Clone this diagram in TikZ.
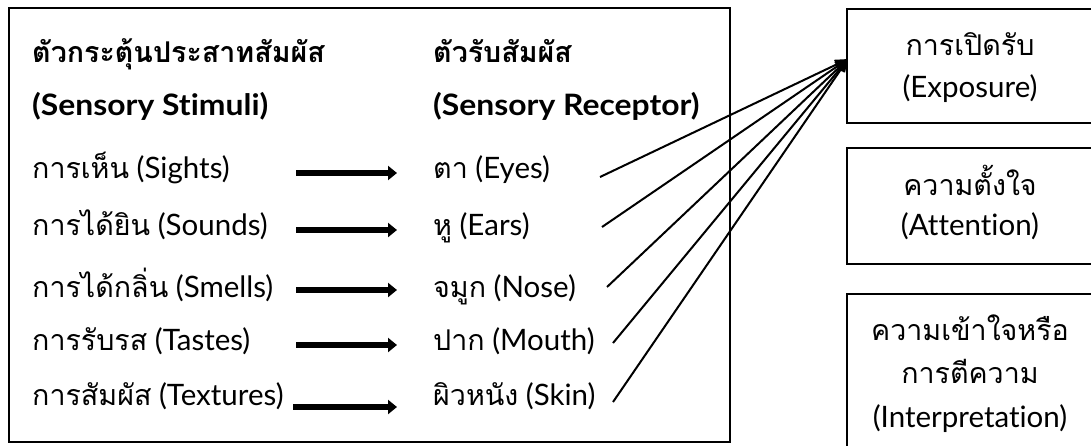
\documentclass[tikz,border=0pt]{standalone}
\usepackage{fontspec}
\setmainfont{Lato}[Ligatures=NoCommon,BoldFeatures={FakeStretch=1.08}]
\newfontfamily\thai[Script=Thai,Scale=0.97]{Loma}
\usetikzlibrary{arrows.meta}
\begin{document}
\begin{tikzpicture}[x=1pt,y=1pt,
  txt/.style={anchor=base west,inner sep=0pt,font=\fontsize{29.5}{34}\selectfont},
  hd/.style={txt,font=\fontsize{29.5}{34}\selectfont\bfseries},
  ctxt/.style={anchor=base,inner sep=0pt,font=\fontsize{29.5}{34}\selectfont},
  frame/.style={draw=black,line width=2pt},
  boxnode/.style={draw=black,line width=2pt,minimum width=248pt,inner sep=0pt},
  fat/.style={line width=5.5pt,-{Triangle[length=9pt,width=14pt]}},
  thin/.style={line width=2pt,-{Triangle[length=13pt,width=10pt]}}]
\useasboundingbox (0,0) rectangle (1091,-445);
% main frame
\draw[frame] (9,-8) rectangle (730,-442);
% headings
\node[hd] (h1) at (32,-62) {\thai ตัวกระตุ้นประสาทสัมผัส};
\node[hd] (h2) at (32,-115) {(Sensory Stimuli)};
\node[hd] (h3) at (433,-62) {\thai ตัวรับสัมผัส};
\node[hd] (h4) at (433,-115) {(Sensory Receptor)};
% stimuli
\node[txt] (s1) at (32,-178) {{\thai การเห็น} (Sights)};
\node[txt] (s2) at (32,-235) {{\thai การได้ยิน} (Sounds)};
\node[txt] (s3) at (32,-297) {{\thai การได้กลิ่น} (Smells)};
\node[txt] (s4) at (32,-350) {{\thai การรับรส} (Tastes)};
\node[txt] (s5) at (32,-405) {{\thai การสัมผัส} (Textures)};
% receptors
\node[txt] (r1) at (433,-178) {{\thai ตา} (Eyes)};
\node[txt] (r2) at (433,-235) {{\thai หู} (Ears)};
\node[txt] (r3) at (433,-297) {{\thai จมูก} (Nose)};
\node[txt] (r4) at (433,-350) {{\thai ปาก} (Mouth)};
\node[txt] (r5) at (433,-405) {{\thai ผิวหนัง} (Skin)};
% fat arrows
\coordinate (a1) at (296,-173); \coordinate (b1) at (397,-173);
\coordinate (a2) at (296,-230); \coordinate (b2) at (397,-230);
\coordinate (a3) at (296,-290); \coordinate (b3) at (397,-290);
\coordinate (a4) at (296,-345); \coordinate (b4) at (397,-345);
\coordinate (a5) at (293,-407); \coordinate (b5) at (397,-407);
\foreach \i in {1,...,5} {\draw[fat] (a\i) -- (b\i);}
% right boxes
\node[boxnode,minimum height=114pt] (exp) at (971,-66) {};
\node[boxnode,minimum height=116pt] (att) at (971,-206) {};
\node[boxnode,minimum height=156pt] (int) at (971,-372) {};
\node[ctxt] (e1) at (970,-55) {\thai การเปิดรับ};
\node[ctxt] (e2) at (970,-97) {(Exposure)};
\node[ctxt] (t1) at (970,-195) {\thai ความตั้งใจ};
\node[ctxt] (t2) at (970,-235) {(Attention)};
\node[ctxt] (i1) at (970,-340) {\thai ความเข้าใจหรือ};
\node[ctxt] (i2) at (970,-383) {\thai การตีความ};
\node[ctxt] (i3) at (970,-427) {(Interpretation)};
% converging lines
\coordinate (conv) at (848,-59);
\coordinate (c1) at (600,-177);
\coordinate (c2) at (602,-227);
\coordinate (c3) at (607,-287);
\coordinate (c4) at (613,-343);
\coordinate (c5) at (613,-402);
\foreach \i in {1,...,5} {\draw[thin] (c\i) -- (conv);}
\end{tikzpicture}
\end{document}
